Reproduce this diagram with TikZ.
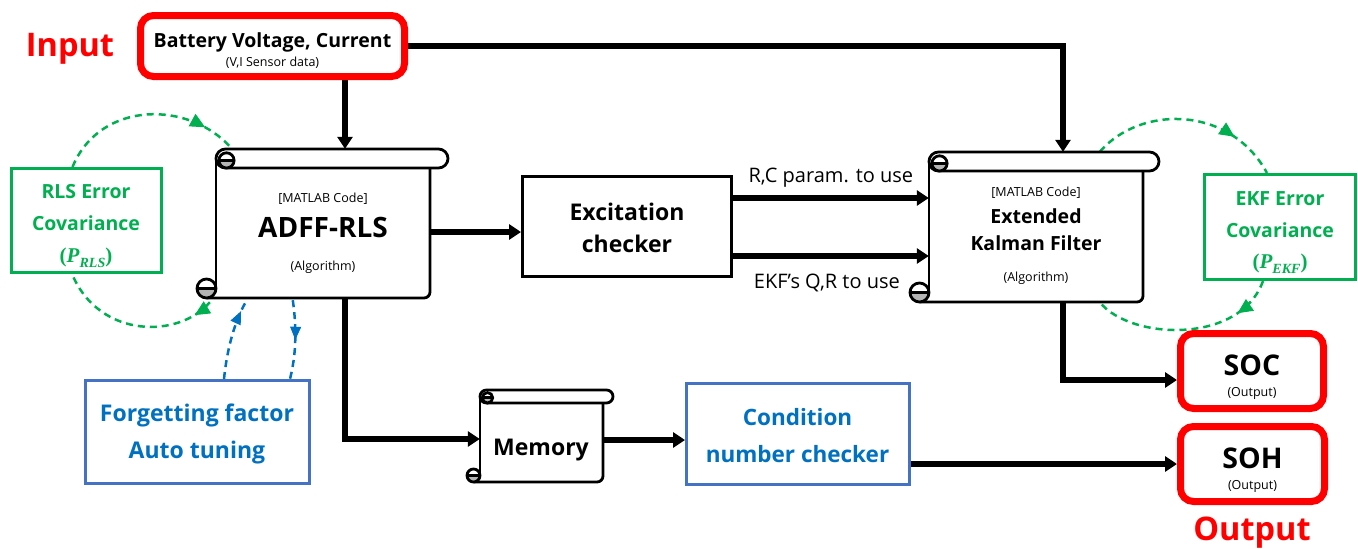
\documentclass[tikz,border=0pt]{standalone}
\usepackage{fontspec}
\setmainfont{Open Sans}
\newfontfamily\pfont{Liberation Serif}
\usetikzlibrary{arrows.meta,decorations.markings,calc}
\definecolor{myred}{HTML}{FF0000}
\definecolor{mygreen}{HTML}{00B050}
\definecolor{myblue}{HTML}{0070C0}
\definecolor{myblueborder}{HTML}{4472C4}
\definecolor{curlgray}{HTML}{B4B4B4}
\pgfdeclarelayer{bg}
\pgfsetlayers{bg,main}
\newcommand{\fs}[1]{\fontsize{#1}{#1}\selectfont}
\newcommand{\pmat}[1]{{\pfont\bfseries(\textit{P}\raisebox{-0.25em}{\fontsize{14}{14}\selectfont\textit{#1}})}}
% scroll: #1=L #2=T #3=R #4=B #5=E #6=r
\newcommand{\scrollpic}[6]{%
  \pgfmathsetmacro\scR{#6}%
  \pgfmathsetmacro\scRi{0.8*#6}%
  \fill[white] (#1,#2+#6) rectangle (#3,#4);
  \draw[scrl, rounded corners=6pt] (#3,#2+2*#6) -- (#3,#4) -- (#1-#6,#4);
  \draw[scrl] (#1,#2+#6) -- (#1,#4-#6);
  \draw[scrl, fill=white, rounded corners=\scR pt] (#1,#2) rectangle (#5,#2+2*#6);
  \begin{scope}
    \clip (#1,#2+1.2*#6) rectangle (#1+2*#6+3,#2+3*#6);
    \fill[curlgray] (#1+#6+1,#2+1.2*#6) circle[radius=\scRi pt];
  \end{scope}
  \draw[scrl] (#1+#6+1,#2+1.2*#6) circle[radius=\scRi pt];
  \draw[scrl] (#1+#6+1-\scRi,#2+1.2*#6) -- (#1+#6+1+\scRi,#2+1.2*#6);
  \fill[white] (#1-#6,#4-#6) circle[radius=\scR pt];
  \begin{scope}
    \clip (#1-2*#6,#4-#6) rectangle (#1,#4);
    \fill[curlgray] (#1-#6,#4-#6) circle[radius=\scR pt];
  \end{scope}
  \draw[scrl] (#1-#6,#4-#6) circle[radius=\scR pt];
  \draw[scrl] (#1-2*#6,#4-#6) -- (#1,#4-#6);
}
\begin{document}
\begin{tikzpicture}[x=1pt,y=-1pt,
  scrl/.style={draw=black, line width=2.8pt},
  redbox/.style={draw=myred, line width=7pt, rounded corners=13pt, fill=white, inner sep=0pt},
  blkbox/.style={draw=black, line width=3pt, fill=white, inner sep=0pt},
  bluebox/.style={draw=myblueborder, line width=3pt, fill=white, inner sep=0pt},
  greenbox/.style={draw=mygreen, line width=3pt, fill=white, inner sep=0pt},
  body/.style={draw=none, inner sep=0pt},
  txt/.style={anchor=base, inner sep=0pt},
  arr/.style={draw=black, line width=6pt, -{Triangle[length=12pt,width=15pt]}},
  gdash/.style={draw=mygreen, line width=2.5pt, dash pattern=on 7pt off 5pt},
  bdash/.style={draw=myblue, line width=2.5pt, dash pattern=on 7pt off 5pt},
  garrow/.style={postaction={decorate}, decoration={markings, mark=at position #1 with {\arrow[mygreen, line width=1pt]{Triangle[length=15pt,width=14pt]}}}},
  barrow/.style={postaction={decorate}, decoration={markings, mark=at position #1 with {\arrow[myblue, line width=1pt]{Triangle[length=13pt,width=11pt]}}}},
]
\useasboundingbox (0,0) rectangle (1358,549);

% ---------- boxes ----------
\node[redbox, minimum width=264pt, minimum height=61pt] (input) at (272.5,46) {};
\node[txt] (inputt1) at (272.5,47) {\fs{19.5}\bfseries Battery Voltage, Current};
\node[txt] (inputt2) at (272.5,66) {\fs{12.5}(V,I Sensor data)};
\node[txt, text=myred] (inlabel) at (70,56) {\fs{32.5}\bfseries Input};

% ADFF scroll
\scrollpic{216}{149}{430}{298}{448}{9.5}
\node[body, minimum width=214pt, minimum height=149pt] (adff) at (323,223.5) {};
\node[txt] (adfft1) at (323,202) {\fs{12.5}[MATLAB Code]};
\node[txt] (adfft2) at (323,237) {\fs{28}\bfseries ADFF-RLS};
\node[txt] (adfft3) at (323,270) {\fs{12.5}(Algorithm)};

% Excitation
\node[blkbox, minimum width=209pt, minimum height=100pt] (exc) at (627,226.5) {};
\node[txt] (exct1) at (627,220) {\fs{23}\bfseries Excitation};
\node[txt] (exct2) at (627,252) {\fs{23}\bfseries checker};

% EKF scroll
\scrollpic{929}{152}{1143}{302}{1159}{9.5}
\node[body, minimum width=214pt, minimum height=150pt] (ekf) at (1036,227) {};
\node[txt] (ekft1) at (1036,196) {\fs{12.5}[MATLAB Code]};
\node[txt] (ekft2) at (1036,223) {\fs{19.5}\bfseries Extended};
\node[txt] (ekft3) at (1036,250) {\fs{19.5}\bfseries Kalman Filter};
\node[txt] (ekft4) at (1036,281) {\fs{12.5}(Algorithm)};

% Memory scroll
\scrollpic{480}{390}{603}{482}{613}{6.5}
\node[body, minimum width=123pt, minimum height=92pt] (mem) at (541.5,436) {};
\node[txt] (memt) at (541,455) {\fs{23}\bfseries Memory};

% Condition number checker
\node[bluebox, minimum width=223pt, minimum height=101pt] (cond) at (798,434) {};
\node[txt, text=myblue] (condt1) at (797.5,425) {\fs{22.5}\bfseries Condition};
\node[txt, text=myblue] (condt2) at (797.5,462) {\fs{22.5}\bfseries number checker};

% Forgetting factor
\node[bluebox, minimum width=224pt, minimum height=103pt] (forget) at (197.5,432) {};
\node[txt, text=myblue] (forgett1) at (197,421) {\fs{23}\bfseries Forgetting factor};
\node[txt, text=myblue] (forgett2) at (197,458) {\fs{23}\bfseries Auto tuning};

% RLS covariance
\node[greenbox, minimum width=150pt, minimum height=104pt] (rls) at (86.5,220.5) {};
\node[txt, text=mygreen] (rlst1) at (86,198) {\fs{19.5}\bfseries RLS Error};
\node[txt, text=mygreen] (rlst2) at (86,230) {\fs{19.5}\bfseries Covariance};
\node[txt, text=mygreen] (rlst3) at (86,262) {\fs{21}\pmat{RLS}};

% EKF covariance
\node[greenbox, minimum width=151pt, minimum height=105pt] (ekfcov) at (1280,227) {};
\node[txt, text=mygreen] (ekfcovt1) at (1280,205) {\fs{19.5}\bfseries EKF Error};
\node[txt, text=mygreen] (ekfcovt2) at (1280,237) {\fs{19.5}\bfseries Covariance};
\node[txt, text=mygreen] (ekfcovt3) at (1280,268) {\fs{21}\pmat{EKF}};

% Outputs
\node[redbox, minimum width=143pt, minimum height=75pt] (soc) at (1252,371) {};
\node[txt] (soct1) at (1252,375) {\fs{28.5}\bfseries SOC};
\node[txt] (soct2) at (1252,396) {\fs{12.5}(Output)};
\node[redbox, minimum width=144pt, minimum height=75pt] (soh) at (1252.5,464) {};
\node[txt] (soht1) at (1252.5,468) {\fs{28.5}\bfseries SOH};
\node[txt] (soht2) at (1252.5,489) {\fs{12.5}(Output)};
\node[txt, text=myred] (outlabel) at (1252,540) {\fs{32.5}\bfseries Output};

% connector helper points
\coordinate (excin) at ([yshift=-5.5pt]exc.west);
\coordinate (excout1) at ([yshift=28.5pt]exc.east);
\coordinate (excout2) at ([yshift=-29.5pt]exc.east);
\coordinate (condin) at ([yshift=-6pt]cond.west);
\coordinate (adffin) at ([xshift=22pt]adff.north);
\coordinate (adffout) at ([xshift=22pt]adff.south);
\coordinate (ekfin) at ([xshift=27pt]ekf.north);
\coordinate (ekfout) at ([xshift=27pt]ekf.south);

% ---------- connectors ----------
\begin{pgfonlayer}{bg}
\draw[arr] (adffin |- input.south) -- (adffin);
\draw[arr] (input.east) -| (ekfin);
\draw[arr] (adff.east |- excin) -- (excin);
\draw[arr] (excout1) -- (ekf.west |- excout1)
  node[midway, txt, yshift=16pt] (lab1) {\fs{20}R,C param. to use};
\draw[arr] (excout2) -- (ekf.west |- excout2)
  node[midway, txt, yshift=-32pt, xshift=-4pt] (lab2) {\fs{20}EKF’s Q,R to use};
\draw[arr] (ekfout) |- ([yshift=-9pt]soc.west);
\draw[arr] (adffout) |- ([yshift=-3pt]mem.west);
\draw[arr] (mem.east |- condin) -- (condin);
\draw[arr] (cond.east |- soh.west) -- (soh.west);

% green feedback arcs
\draw[gdash, garrow=0.82] ([xshift=-14pt]rls.north) .. controls (100,100) and (190,100) .. ([xshift=16pt]adff.north west);
\draw[gdash, garrow=0.12] ([shift={(-6pt,-4pt)}]adff.south west) .. controls (180,338) and (100,340) .. ([xshift=-14.5pt]rls.south);
\draw[gdash, garrow=0.75] ([xshift=171pt]ekf.north west) .. controls (1140,105) and (1230,105) .. ([xshift=-13pt]ekfcov.north);
\draw[gdash, garrow=0.22] ([xshift=-17pt]ekfcov.south) .. controls (1240,345) and (1130,340) .. ([xshift=171pt]ekf.south west);

% blue dashed arrows
\draw[bdash, barrow=0.85] ([xshift=26.5pt]forget.north) .. controls (228,340) and (238,315) .. ([shift={(31pt,-2pt)}]adff.south west);
\draw[bdash, barrow=0.5] ([shift={(77pt,-2pt)}]adff.south west) .. controls (297,330) and (296,355) .. ([xshift=92.5pt]forget.north);
\end{pgfonlayer}
\end{tikzpicture}
\end{document}
